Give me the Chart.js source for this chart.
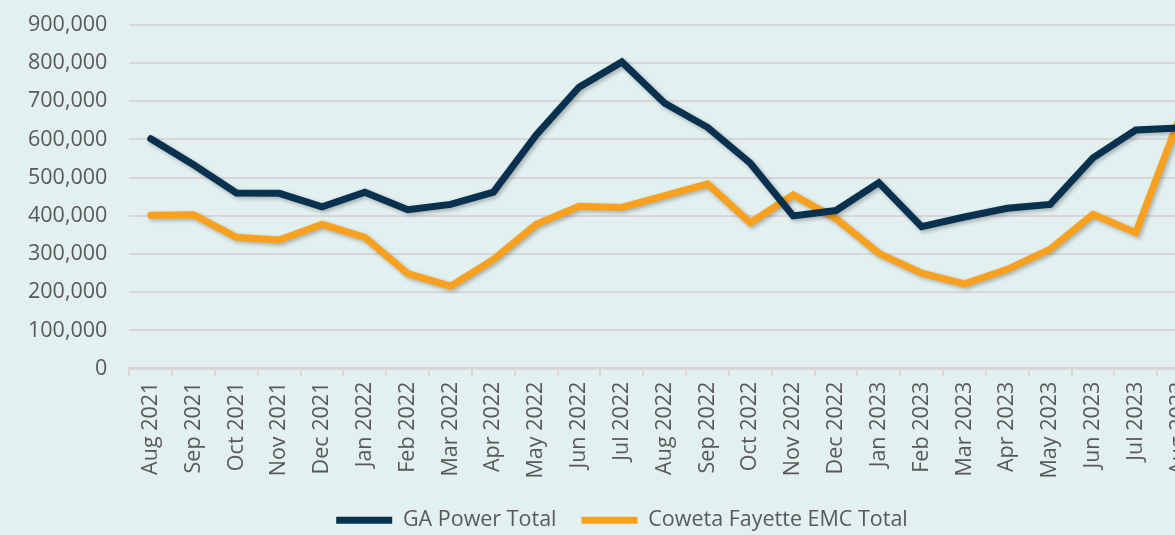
<!DOCTYPE html>
<html>
<head>
<meta charset="utf-8">
<script src="https://cdn.jsdelivr.net/npm/chart.js@4/dist/chart.umd.min.js"></script>
<style>
  html, body { margin: 0; padding: 0; overflow: hidden; background: #e2f0ef; }
  #wrap { position: absolute; left: 0; top: -10px; width: 1245px; height: 551px; }
</style>
</head>
<body>
<div id="wrap"><canvas id="chart" width="1245" height="551"></canvas></div>
<script>
const months = ['Aug 2021', 'Sep 2021', 'Oct 2021', 'Nov 2021', 'Dec 2021', 'Jan 2022', 'Feb 2022',
    'Mar 2022', 'Apr 2022', 'May 2022', 'Jun 2022', 'Jul 2022', 'Aug 2022', 'Sep 2022', 'Oct 2022',
    'Nov 2022', 'Dec 2022', 'Jan 2023', 'Feb 2023', 'Mar 2023', 'Apr 2023', 'May 2023', 'Jun 2023',
    'Jul 2023', 'Aug 2023'];

const gaPower = [602000, 534000, 460000, 459000, 424000, 462000, 416000, 430000, 462000, 612000,
    737000, 803000, 695000, 632000, 538000, 400000, 414000, 487000, 372000, 397000,
    420000, 430000, 552000, 625000, 630000];

const cowetaFayette = [402000, 403000, 344000, 337000, 378000, 344000, 249000, 216000, 286000, 378000,
    425000, 422000, 453000, 484000, 382000, 455000, 393000, 302000, 250000, 222000,
    260000, 313000, 404000, 356000, 650000];

const yTicks = [0, 100000, 200000, 300000, 400000, 500000, 600000, 700000, 800000, 900000];

const textColor = '#595959';
const gridColor = '#d9d6d6';
const fontFamily = '"Open Sans", sans-serif';
const fontSize = 21.5;

// soft drop shadow under each line, like the original
const lineShadow = {
    id: 'lineShadow',
    beforeDatasetDraw(chart) {
        const c = chart.ctx;
        c.save();
        c.shadowColor = 'rgba(0,0,0,0.28)';
        c.shadowBlur = 4;
        c.shadowOffsetX = 2;
        c.shadowOffsetY = 2;
    },
    afterDatasetDraw(chart) {
        chart.ctx.restore();
    }
};

const ctx = document.getElementById('chart').getContext('2d');
const chart = new Chart(ctx, {
    type: 'line',
    data: {
        labels: months,
        datasets: [{
            label: 'GA Power Total',
            data: gaPower,
            borderColor: '#08304f',
            backgroundColor: '#08304f',
            borderWidth: 7,
            borderCapStyle: 'round',
            pointRadius: 0,
            fill: false
        }, {
            label: 'Coweta Fayette EMC Total',
            data: cowetaFayette,
            borderColor: '#f9a11f',
            backgroundColor: '#f9a11f',
            borderWidth: 7,
            borderCapStyle: 'round',
            pointRadius: 0,
            fill: false
        }]
    },
    options: {
        responsive: false,
        animation: false,
        layout: { padding: { left: 6, right: 7, top: 5, bottom: 0 } },
        font: { family: fontFamily, size: fontSize },
        scales: {
            x: {
                offset: true,
                grid: {
                    offset: true,
                    drawOnChartArea: false,
                    drawTicks: true,
                    tickLength: 7,
                    color: gridColor,
                    lineWidth: 2
                },
                border: { display: true, color: gridColor, width: 3 },
                ticks: {
                    color: textColor,
                    font: { family: fontFamily, size: fontSize },
                    minRotation: 90,
                    maxRotation: 90,
                    autoSkip: false,
                    padding: 6
                }
            },
            y: {
                min: 0,
                max: 900000,
                afterBuildTicks(axis) {
                    axis.ticks = yTicks.map(v => ({ value: v }));
                },
                grid: { color: gridColor, lineWidth: 2, drawTicks: false },
                border: { display: false },
                ticks: {
                    color: textColor,
                    font: { family: fontFamily, size: fontSize },
                    padding: 22,
                    callback: v => v.toLocaleString('en-US')
                }
            },
            // empty spacer on the right so the plot ends where the original's does
            spacer: {
                type: 'linear',
                position: 'right',
                grid: { display: false },
                border: { display: false },
                ticks: { display: false },
                afterFit(axis) { axis.width = 38; }
            }
        },
        plugins: {
            tooltip: { enabled: false },
            legend: {
                position: 'bottom',
                labels: {
                    color: textColor,
                    font: { family: fontFamily, size: fontSize },
                    usePointStyle: true,
                    pointStyle: 'line',
                    pointStyleWidth: 56,
                    padding: 25
                }
            }
        }
    },
    plugins: [lineShadow]
});
</script>
</body>
</html>
